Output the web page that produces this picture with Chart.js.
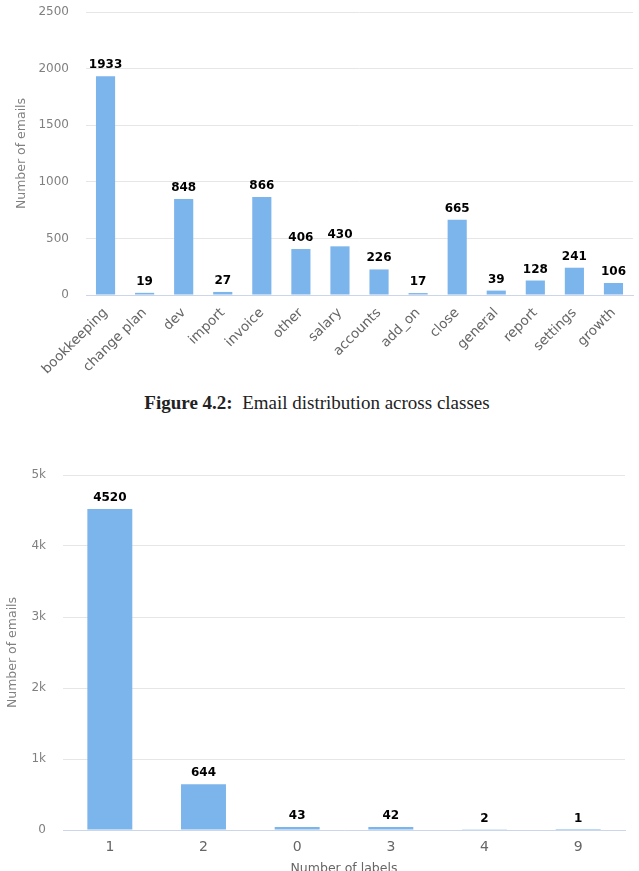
<!DOCTYPE html>
<html>
<head>
<meta charset="utf-8">
<script src="https://cdn.jsdelivr.net/npm/chart.js@4/dist/chart.umd.min.js"></script>
<style>
  html, body { margin: 0; padding: 0; background: #fff; overflow: hidden; width: 639px; height: 871px; }
  .box { position: absolute; left: 0; width: 639px; }
  #c1box { top: 0; height: 390px; }
  #c2box { top: 460px; height: 430px; }
  #caption { position: absolute; top: 392px; left: 0; width: 634px; text-align: center;
    font-family: "Liberation Serif", "DejaVu Serif", serif; font-size: 19px; color: #222; }
  #caption b { font-weight: bold; }
</style>
</head>
<body>
<div class="box" id="c1box"><canvas id="c1" width="639" height="390"></canvas></div>
<div id="caption"><b>Figure 4.2:</b>&nbsp; Email distribution across classes</div>
<div class="box" id="c2box"><canvas id="c2" width="639" height="430"></canvas></div>
<script>
// ---- Data ----
const classCategories = ["bookkeeping", "change plan", "dev", "import", "invoice", "other", "salary",
  "accounts", "add_on", "close", "general", "report", "settings", "growth"];
const classCounts = [1933, 19, 848, 27, 866, 406, 430, 226, 17, 665, 39, 128, 241, 106];
const classTicks = [0, 500, 1000, 1500, 2000, 2500];
const classTickLabels = ["0", "500", "1000", "1500", "2000", "2500"];

const labelCountCategories = ["1", "2", "0", "3", "4", "9"];
const labelCountValues = [4520, 644, 43, 42, 2, 1];
const labelCountTicks = [0, 1000, 2000, 3000, 4000, 5000];
const labelCountTickLabels = ["0", "1k", "2k", "3k", "4k", "5k"];

// ---- Styles ----
const BAR = "#7cb5ec";
const GRID = "#e6e6e6";
const AXIS = "#ccd6eb";
const FONT = "'DejaVu Sans', sans-serif";

const dataLabelPlugin = {
  id: "dataLabels",
  afterDatasetsDraw(chart) {
    const ctx = chart.ctx;
    ctx.save();
    ctx.font = "bold 12px " + FONT;
    ctx.fillStyle = "#000";
    ctx.textAlign = "center";
    ctx.textBaseline = "alphabetic";
    chart.data.datasets.forEach((ds, di) => {
      const meta = chart.getDatasetMeta(di);
      meta.data.forEach((el, i) => {
        ctx.fillText(String(ds.data[i]), el.x, el.y - 8);
      });
    });
    ctx.restore();
  }
};

Chart.defaults.animation = false;
Chart.defaults.font.family = FONT;

new Chart(document.getElementById("c1"), {
  type: "bar",
  data: {
    labels: classCategories,
    datasets: [{ data: classCounts, backgroundColor: BAR, barPercentage: 0.49, categoryPercentage: 1 }]
  },
  options: {
    responsive: false,
    animation: false,
    layout: { padding: { top: 12, right: 6, bottom: 0, left: 0 } },
    plugins: { legend: { display: false }, tooltip: { enabled: false } },
    scales: {
      x: {
        grid: { display: false, drawTicks: false },
        border: { color: AXIS, width: 1 },
        ticks: { color: "#666", font: { size: 13.5 }, minRotation: 45, maxRotation: 45, padding: 10, autoSkip: false },
        afterFit(s) { s.height = 95; }
      },
      y: {
        min: 0, max: 2500,
        afterBuildTicks(s) { s.ticks = classTicks.map(v => ({ value: v })); },
        grid: { color: GRID, drawTicks: false },
        border: { display: false },
        ticks: { color: "#808080", font: { size: 12 }, padding: 17,
          callback(v, i) { return classTickLabels[i]; } },
        title: { display: true, text: "Number of emails", color: "#808080", font: { size: 12.5 }, padding: { top: 14, bottom: 0 } },
        afterFit(s) { s.width = 86; s.paddingTop = 0; s.paddingBottom = 0; }
      }
    }
  },
  plugins: [dataLabelPlugin]
});

new Chart(document.getElementById("c2"), {
  type: "bar",
  data: {
    labels: labelCountCategories,
    datasets: [{ data: labelCountValues, backgroundColor: BAR, barPercentage: 0.48, categoryPercentage: 1 }]
  },
  options: {
    responsive: false,
    animation: false,
    layout: { padding: { top: 15, right: 14, bottom: 0, left: 0 } },
    plugins: { legend: { display: false }, tooltip: { enabled: false } },
    scales: {
      x: {
        grid: { display: false, drawTicks: false },
        border: { color: AXIS, width: 1 },
        ticks: { color: "#666", font: { size: 14 }, maxRotation: 0, padding: 9 },
        title: { display: true, text: "Number of labels", color: "#666", font: { size: 12.5 }, padding: { top: 0, bottom: 14 } },
        afterFit(s) { s.height = 60; }
      },
      y: {
        min: 0, max: 5000,
        afterBuildTicks(s) { s.ticks = labelCountTicks.map(v => ({ value: v })); },
        grid: { color: GRID, drawTicks: false },
        border: { display: false },
        ticks: { color: "#808080", font: { size: 12 }, padding: 17,
          callback(v, i) { return labelCountTickLabels[i]; } },
        title: { display: true, text: "Number of emails", color: "#808080", font: { size: 12.5 }, padding: { top: 5, bottom: 0 } },
        afterFit(s) { s.width = 63; s.paddingTop = 0; s.paddingBottom = 0; }
      }
    }
  },
  plugins: [dataLabelPlugin]
});
</script>
</body>
</html>
